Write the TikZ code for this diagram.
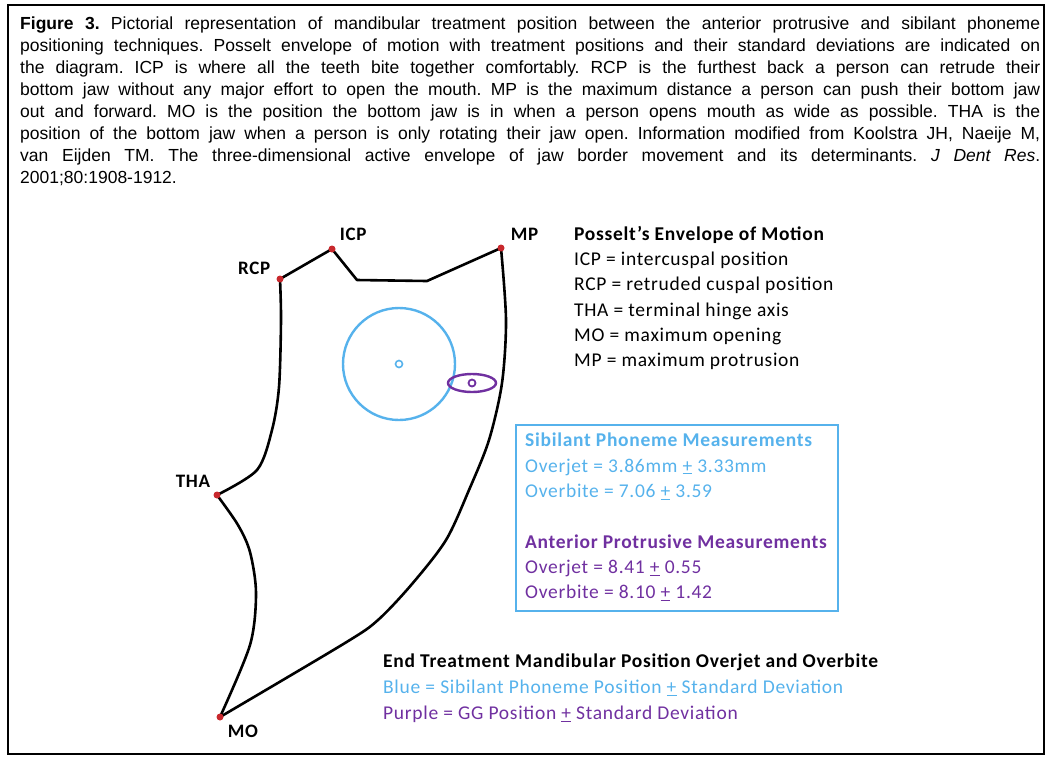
\documentclass[tikz,border=0pt]{standalone}
\usepackage{fontspec}
\setmainfont{Carlito}[LetterSpace=3.6]
\newfontfamily\captionfont{Liberation Sans}
\usetikzlibrary{positioning,shapes.geometric,backgrounds}
\definecolor{sibblue}{RGB}{86,178,236}
\definecolor{ggpurple}{RGB}{112,48,160}
\definecolor{dotred}{RGB}{200,40,45}
\newcommand{\pmline}{\underline{+}}

\begin{document}
\begin{tikzpicture}[x=1pt, y=-1pt]
    \tikzset{
        jawpos/.style={circle, fill=dotred, inner sep=0pt, minimum size=7pt},
        poslabel/.style={inner sep=0pt, font=\fontsize{19}{22}\selectfont\bfseries},
        envelope/.style={line width=2.6pt, line join=round, line cap=round},
        legend/.style={inner sep=0pt, anchor=north west, align=left, font=\fontsize{19.5}{25.3}\selectfont}
    }
    \useasboundingbox (0,0) rectangle (1062,764);
    \draw[line width=1.5pt] (8,5) rectangle (1044,754);

    % caption
    \node[anchor=north west, inner sep=0pt, text width=1020pt, align=justify,
          font=\captionfont\fontsize{17.5}{22}\selectfont] (caption) at (20,17)
        {\frenchspacing\hyphenpenalty=10000 \textbf{Figure 3.} Pictorial representation of mandibular treatment position between the anterior protrusive and sibilant phoneme\linebreak
        positioning techniques. Posselt envelope of motion with treatment positions and their standard deviations are indicated on\linebreak
        the diagram. ICP is where all the teeth bite together comfortably. RCP is the furthest back a person can retrude their\linebreak
        bottom jaw without any major effort to open the mouth. MP is the maximum distance a person can push their bottom jaw\linebreak
        out and forward. MO is the position the bottom jaw is in when a person opens mouth as wide as possible. THA is the\linebreak
        position of the bottom jaw when a person is only rotating their jaw open. Information modified from Koolstra JH, Naeije M,\linebreak
        van Eijden TM. The three-dimensional active envelope of jaw border movement and its determinants. \textit{J Dent Res}.\linebreak
        2001;80:1908-1912.};

    % border positions
    \node[jawpos] (RCP) at (280,279) {};
    \node[jawpos] (ICP) at (332,249) {};
    \node[jawpos] (MP)  at (501,248) {};
    \node[jawpos] (THA) at (217,495) {};
    \node[jawpos] (MO)  at (220,717) {};

    \node[poslabel, above right=6pt and 5pt of ICP] (ICPlabel) {ICP};
    \node[poslabel, above left=2pt and 7pt of RCP] (RCPlabel) {RCP};
    \node[poslabel, above right=5pt and 7pt of MP] (MPlabel) {MP};
    \node[poslabel, above left=5pt and 4pt of THA] (THAlabel) {THA};
    \node[poslabel, below right=5pt and 5pt of MO] (MOlabel) {MO};

    % envelope of motion
    \begin{scope}[on background layer]
        \draw[envelope] (RCP.center) -- (ICP.center) -- (357,280) -- (427,281) -- (MP.center);
        \draw[envelope] plot[smooth, tension=0.5] coordinates {(MP.center) (506,320) (502,383) (489,440) (469,490) (446,540) (412,584) (378,620) (345,643) (MO.center)};
        \draw[envelope] plot[smooth, tension=0.5] coordinates {(RCP.center) (281,320) (279,387) (272,430) (257,470) (THA.center)};
        \draw[envelope] plot[smooth, tension=0.5] coordinates {(THA.center) (238,525) (250,552) (256,593) (250,645) (MO.center)};
    \end{scope}

    % treatment positions
    \node[circle, draw=sibblue, line width=2.4pt, minimum size=112pt, inner sep=0pt] (sibilant) at (399,364) {};
    \node[circle, draw=sibblue, line width=1.6pt, minimum size=7pt, inner sep=0pt] (sibcentre) at (sibilant.center) {};
    \node[ellipse, draw=ggpurple, line width=2.4pt, minimum width=48pt, minimum height=18pt, inner sep=0pt] (gg) at (472,383) {};
    \node[circle, draw=ggpurple, line width=1.8pt, minimum size=7pt, inner sep=0pt] (ggcentre) at (gg.center) {};

    % legends
    \node[legend] (posselt) at (574,226)
        {\textbf{Posselt’s Envelope of Motion}\\
        ICP = intercuspal position\\
        RCP = retruded cuspal position\\
        THA = terminal hinge axis\\
        MO = maximum opening\\
        MP = maximum protrusion};

    \draw[sibblue, line width=1.5pt] (516,425) rectangle (838,611);
    \node[legend] (measures) at (525,433)
        {\color{sibblue}\textbf{Sibilant Phoneme Measurements}\\
        \color{sibblue}Overjet = 3.86mm \pmline{} 3.33mm\\
        \color{sibblue}Overbite = 7.06 \pmline{} 3.59\\[25.3pt]
        \color{ggpurple}\textbf{Anterior Protrusive Measurements}\\
        \color{ggpurple}Overjet = 8.41 \pmline{} 0.55\\
        \color{ggpurple}Overbite = 8.10 \pmline{} 1.42};

    \node[legend, font=\fontsize{19.5}{25.8}\selectfont] (endpos) at (383,654)
        {\textbf{End Treatment Mandibular Position Overjet and Overbite}\\
        \color{sibblue}Blue = Sibilant Phoneme Position \pmline{} Standard Deviation\\
        \color{ggpurple}Purple = GG Position \pmline{} Standard Deviation};
\end{tikzpicture}
\end{document}
